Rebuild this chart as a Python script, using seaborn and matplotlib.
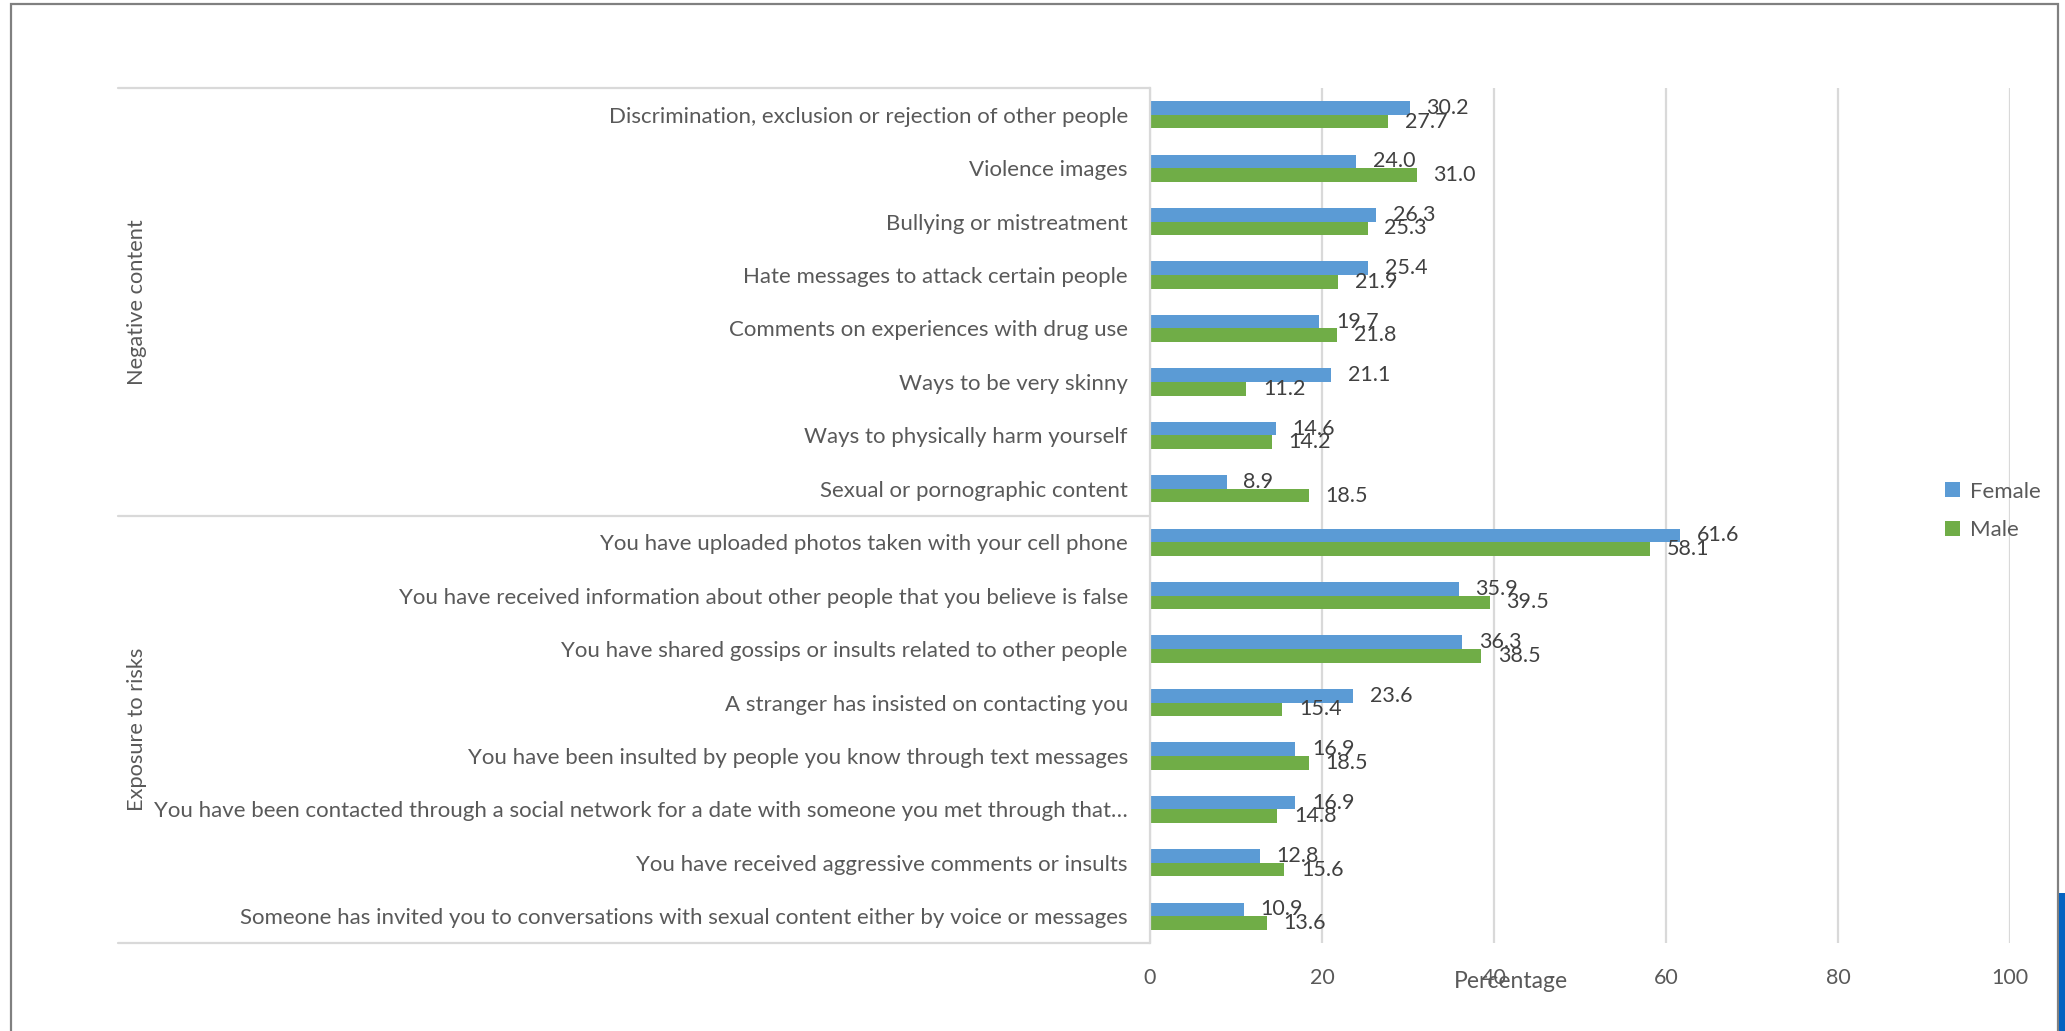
import pandas as pd
import matplotlib
matplotlib.use('Agg')
import matplotlib.pyplot as plt
from matplotlib.patches import Rectangle, Patch
import seaborn as sns

# values
items = [
    'Discrimination, exclusion or rejection of other people',
    'Violence images',
    'Bullying or mistreatment',
    'Hate messages to attack certain people',
    'Comments on experiences with drug use',
    'Ways to be very skinny',
    'Ways to physically harm yourself',
    'Sexual or pornographic content',
    'You have uploaded photos taken with your cell phone',
    'You have received information about other people that you believe is false',
    'You have shared gossips or insults related to other people',
    'A stranger has insisted on contacting you',
    'You have been insulted by people you know through text messages',
    'You have been contacted through a social network for a date with someone you met through that\u2026',
    'You have received aggressive comments or insults',
    'Someone has invited you to conversations with sexual content either by voice or messages',
]
female = [30.2, 24.0, 26.3, 25.4, 19.7, 21.1, 14.6, 8.9,
          61.6, 35.9, 36.3, 23.6, 16.9, 16.9, 12.8, 10.9]
male = [27.7, 31.0, 25.3, 21.9, 21.8, 11.2, 14.2, 18.5,
        58.1, 39.5, 38.5, 15.4, 18.5, 14.8, 15.6, 13.6]
groups = ['Negative content', 'Exposure to risks']
group_sizes = [8, 8]
genders = ['Female', 'Male']
xticks = [0, 20, 40, 60, 80, 100]

colors = ['#5B9BD5', '#70AD47']
grey_txt = '#595959'
line_col = '#d9d9d9'

df = pd.DataFrame({
    'item': items * 2,
    'pct': female + male,
    'gender': [genders[0]] * len(items) + [genders[1]] * len(items),
})

sns.set_theme(style='white')
plt.rcParams['font.family'] = ['Lato', 'DejaVu Sans']

W, H = 2065, 1031
fig = plt.figure(figsize=(W / 100, H / 100), dpi=100)
# axes box in pixels: x 1150..2010, y 88..943
ax = fig.add_axes([1150 / W, 1 - 943 / H, 860 / W, 855 / H])

sns.barplot(data=df, y='item', x='pct', hue='gender', hue_order=genders,
            palette=colors, saturation=1, width=0.51, orient='h',
            linewidth=0, legend=False, ax=ax)

for c in ax.containers:
    ax.bar_label(c, fmt='%.1f', padding=12, fontsize=15.5, color='#404040')

ax.set_xlim(0, 100)
ax.set_xticks(xticks)
ax.grid(axis='x', color=line_col, lw=1.6)
ax.grid(axis='y', visible=False)
ax.set_axisbelow(True)
for s in ['top', 'right', 'bottom']:
    ax.spines[s].set_visible(False)
ax.spines['left'].set_color(line_col)
ax.spines['left'].set_linewidth(1.6)

ax.tick_params(axis='y', length=0, pad=16, labelsize=16, labelcolor=grey_txt)
ax.tick_params(axis='x', length=0, pad=18, labelsize=15.5, labelcolor=grey_txt)
ax.set_ylabel('')
ax.set_xlabel('Percentage', fontsize=16.5, color=grey_txt)
ax.xaxis.set_label_coords((1511 - 1150) / 860, -(981 - 943) / 855)
ax.xaxis.label.set_va('center')

# group separators and group names on the left
tr = ax.get_yaxis_transform()
x0 = (118 - 1150) / 860
start = -0.5
ax.plot([x0, 0], [start, start], color=line_col, lw=1.6, transform=tr, clip_on=False)
for g, n in zip(groups, group_sizes):
    end = start + n
    ax.plot([x0, 0], [end, end], color=line_col, lw=1.6, transform=tr, clip_on=False)
    ax.text((137 - 1150) / 860, (start + end) / 2, g, rotation=90,
            ha='center', va='center', fontsize=15.7, color=grey_txt,
            transform=tr)
    start = end
ax.set_ylim(len(items) - 0.5, -0.5)

handles = [Patch(facecolor=c, edgecolor='none') for c in colors]
fig.legend(handles, genders, loc='center left',
           bbox_to_anchor=(1934 / W, 1 - 511 / H), frameon=False,
           borderpad=0, handlelength=0.65, handleheight=0.65,
           handletextpad=0.45, labelspacing=0.85, fontsize=16,
           labelcolor=grey_txt)

# outer chart frame and the little blue strip at the bottom right
fig.add_artist(Rectangle((11 / W, -0.02), (2058 - 11) / W, 1.02 - 4 / H,
                         transform=fig.transFigure, fill=False,
                         edgecolor='#808080', lw=1.6))
fig.add_artist(Rectangle((2059 / W, 0), 6 / W, (H - 893) / H,
                         transform=fig.transFigure, facecolor='#0563C1',
                         edgecolor='none'))

fig.savefig('out.png', dpi=100)
